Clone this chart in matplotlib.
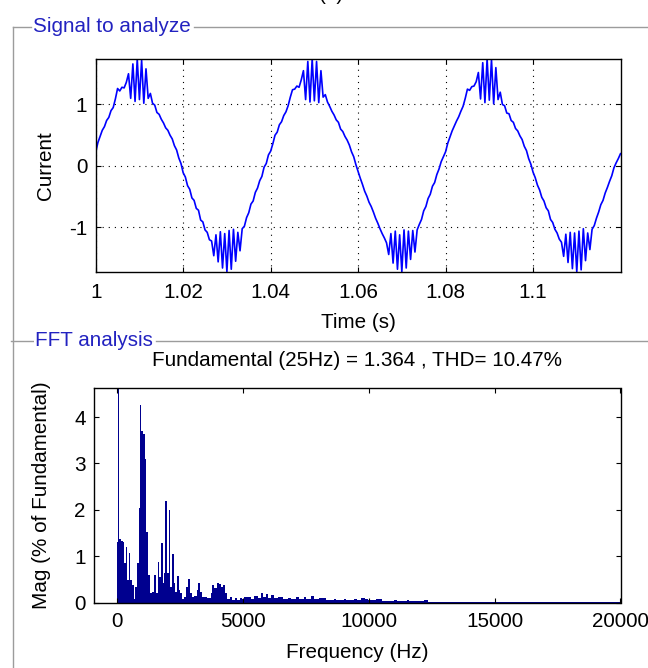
import numpy as np
import matplotlib
matplotlib.use("Agg")
import matplotlib.pyplot as plt
from matplotlib.lines import Line2D

plt.rcParams['font.family'] = ['Liberation Sans', 'DejaVu Sans']
plt.rcParams['font.size'] = 14.9
plt.rcParams['axes.unicode_minus'] = False

# ---------------- data ----------------
t_start = 1.0
t_step = 0.0005
current = [
    0.22, 0.38, 0.48, 0.58, 0.64, 0.74, 0.79, 0.90, 0.95, 1.09,
    1.26, 1.22, 1.28, 1.27, 1.36, 1.50, 1.10, 1.66, 1.05, 1.74,
    1.08, 1.72, 1.02, 1.58, 1.10, 1.18, 1.02, 0.99, 0.87, 0.84,
    0.76, 0.70, 0.62, 0.58, 0.50, 0.44, 0.33, 0.26, 0.13, 0.04,
    -0.11, -0.18, -0.32, -0.38, -0.52, -0.56, -0.69, -0.72, -0.88, -0.91,
    -1.04, -1.08, -1.20, -1.22, -1.46, -1.12, -1.56, -1.07, -1.66, -1.10,
    -1.72, -1.05, -1.68, -1.03, -1.55, -1.08, -1.38, -1.02, -0.98, -0.84,
    -0.76, -0.62, -0.57, -0.43, -0.36, -0.24, -0.17, -0.02, 0.04, 0.18,
    0.24, 0.36, 0.50, 0.55, 0.67, 0.72, 0.82, 0.88, 0.98, 1.12,
    1.24, 1.25, 1.30, 1.28, 1.40, 1.55, 1.08, 1.70, 1.04, 1.74,
    1.06, 1.70, 1.03, 1.55, 1.12, 1.16, 1.04, 0.97, 0.89, 0.83,
    0.75, 0.71, 0.60, 0.56, 0.48, 0.42, 0.34, 0.23, 0.15, 0.02,
    -0.09, -0.20, -0.30, -0.41, -0.49, -0.59, -0.66, -0.75, -0.85, -0.93,
    -1.02, -1.10, -1.17, -1.25, -1.44, -1.10, -1.58, -1.06, -1.68, -1.12,
    -1.72, -1.04, -1.66, -1.06, -1.52, -1.05, -1.40, -1.04, -0.95, -0.87,
    -0.73, -0.66, -0.53, -0.46, -0.33, -0.27, -0.14, -0.05, 0.07, 0.15,
    0.23, 0.37, 0.47, 0.57, 0.65, 0.73, 0.80, 0.89, 0.97, 1.10,
    1.25, 1.23, 1.29, 1.30, 1.37, 1.52, 1.09, 1.68, 1.03, 1.74,
    1.07, 1.73, 1.01, 1.60, 1.08, 1.20, 1.00, 0.98, 0.86, 0.85,
    0.74, 0.71, 0.61, 0.57, 0.49, 0.43, 0.32, 0.25, 0.12, 0.03,
    -0.10, -0.19, -0.31, -0.39, -0.51, -0.57, -0.68, -0.73, -0.87, -0.92,
    -1.03, -1.09, -1.19, -1.24, -1.47, -1.11, -1.57, -1.08, -1.67, -1.09,
    -1.72, -1.06, -1.69, -1.02, -1.54, -1.09, -1.36, -1.03, -0.97, -0.85,
    -0.75, -0.63, -0.56, -0.44, -0.35, -0.25, -0.16, -0.03, 0.05, 0.12,
    0.20,
]
time = t_start + t_step * np.arange(len(current))

fft_edges = [
    -20, 15, 60, 160, 213, 267, 333, 400, 453, 507,
    600, 667, 707, 773, 840, 880, 933, 1000, 1080, 1147,
    1213, 1280, 1373, 1467, 1533, 1600, 1667, 1733, 1800, 1840,
    1907, 1973, 2040, 2107, 2173, 2240, 2307, 2373, 2440, 2507,
    2573, 2640, 2747, 2813, 2880, 2960, 3040, 3147, 3213, 3280,
    3373, 3573, 3707, 3773, 3840, 3947, 4040, 4107, 4200, 4280,
    4373, 4480, 4573, 4667, 4773, 4880, 4947, 5040, 5300, 5450,
    5600, 5700, 5800, 5900, 6000, 6100, 6220, 6400, 6600, 6800,
    6900, 7100, 7200, 7400, 7500, 7700, 7800, 8000, 8300, 8600,
    8700, 9000, 9100, 9400, 9530, 9700, 9850, 9950, 10300, 10500,
    11000, 11100, 11500, 11600, 12200, 12350, 20000,
]
fft_mag = [
    1.31, 100, 1.38, 1.33, 1.31, 0.86, 1.20, 0.49, 1.07, 0.49,
    0.38, 0.09, 0.34, 0.85, 2.03, 4.25, 3.71, 3.64, 3.10, 1.53,
    0.60, 0.20, 0.24, 0.60, 0.20, 0.88, 0.56, 1.28, 0.42, 0.63,
    2.20, 0.63, 2.00, 0.34, 1.06, 0.42, 0.24, 0.57, 0.27, 0.20,
    0.07, 0.13, 0.34, 0.50, 0.20, 0.13, 0.14, 0.27, 0.43, 0.24,
    0.13, 0.11, 0.20, 0.38, 0.31, 0.43, 0.40, 0.34, 0.38, 0.20,
    0.09, 0.13, 0.06, 0.11, 0.06, 0.11, 0.07, 0.12, 0.08, 0.15,
    0.10, 0.20, 0.12, 0.19, 0.11, 0.17, 0.10, 0.13, 0.07, 0.11,
    0.07, 0.12, 0.08, 0.13, 0.09, 0.14, 0.08, 0.10, 0.05, 0.08,
    0.05, 0.08, 0.05, 0.09, 0.06, 0.10, 0.08, 0.06, 0.08, 0.04,
    0.06, 0.03, 0.05, 0.03, 0.06, 0.015,
]

time_ticks = [1.0, 1.02, 1.04, 1.06, 1.08, 1.1]
time_tick_labels = ['1', '1.02', '1.04', '1.06', '1.08', '1.1']
current_ticks = [-1, 0, 1]
freq_ticks = [0, 5000, 10000, 15000, 20000]
mag_ticks = [0, 1, 2, 3, 4]

signal_box_title = 'Signal to analyze'
fft_box_title = 'FFT analysis'
fft_title = 'Fundamental (25Hz) = 1.364 , THD= 10.47%'

# ---------------- figure ----------------
W, H = 648, 668
fig = plt.figure(figsize=(W / 100, H / 100), dpi=100)


def fx(px):
    return px / W


def fy(py):
    return 1 - py / H


box_col = '#9c9c9c'
title_col = '#2222c0'

# --- top axes: signal ---
l1, r1, t1, b1 = 95.7, 620.5, 59.0, 271.7
ax1 = fig.add_axes([fx(l1), fy(b1), (r1 - l1) / W, (b1 - t1) / H])
ax1.plot(time, current, color='#0000ff', lw=1.2)
ax1.set_xlim(1.0, 1.12)
ax1.set_ylim(-1.72, 1.74)
ax1.set_xticks(time_ticks, time_tick_labels)
ax1.set_yticks(current_ticks)
ax1.grid(True, color='k', linestyle=(0, (1, 4.5)), linewidth=0.8)
ax1.tick_params(direction='in', length=3.6, width=0.8, top=True, right=True)
ax1.tick_params(axis='x', pad=8)
ax1.tick_params(axis='y', pad=6)
for s in ax1.spines.values():
    s.set_linewidth(1.0)
ax1.set_xlabel('Time (s)', va='center')
ax1.xaxis.set_label_coords(0.5, (b1 - 322) / (b1 - t1))
ax1.set_ylabel('Current', va='center', ha='center')
ax1.yaxis.set_label_coords((45 - l1) / (r1 - l1), 0.5)

# --- bottom axes: FFT ---
l2, r2, t2, b2 = 94.0, 620.5, 388.3, 602.7
ax2 = fig.add_axes([fx(l2), fy(b2), (r2 - l2) / W, (b2 - t2) / H])
ax2.stairs(fft_mag, fft_edges, fill=True, color='#00008f', baseline=0)
ax2.set_xlim(-930, 20000)
ax2.set_ylim(0, 4.62)
ax2.set_xticks(freq_ticks)
ax2.set_yticks(mag_ticks)
ax2.tick_params(direction='in', length=3.6, width=0.8, top=True, right=True)
ax2.tick_params(axis='x', pad=7)
ax2.tick_params(axis='y', pad=6)
for s in ax2.spines.values():
    s.set_linewidth(1.0)
ax2.set_xlabel('Frequency (Hz)', va='center')
ax2.xaxis.set_label_coords(0.5, (b2 - 652) / (b2 - t2))
ax2.set_ylabel('Mag (% of Fundamental)', va='center', ha='center')
ax2.yaxis.set_label_coords((42 - l2) / (r2 - l2), 0.5)
ax2.text(0.5, 1 + (t2 - 361) / (b2 - t2), fft_title, transform=ax2.transAxes,
         ha='center', va='center')

# --- group boxes ---
def hline(x0, x1, y):
    fig.add_artist(Line2D([fx(x0), fx(x1)], [fy(y), fy(y)], color=box_col,
                          lw=1.0, transform=fig.transFigure))


def vline(x, y0, y1):
    fig.add_artist(Line2D([fx(x), fx(x)], [fy(y0), fy(y1)], color=box_col,
                          lw=1.0, transform=fig.transFigure))


hline(13, 31, 27)
hline(194, 648, 27)
vline(13, 27, 668)
hline(11, 33, 340.5)
hline(156, 648, 340.5)

fig.text(fx(33), fy(27), signal_box_title, color=title_col, ha='left',
         va='center', zorder=5)
fig.text(fx(35), fy(340.5), fft_box_title, color=title_col, ha='left',
         va='center', zorder=5,
         bbox=dict(facecolor='white', edgecolor='none', pad=0.5))

# cut-off panel letter at the very top (only its lower edge shows)
fig.text(fx(331), 1.0, '(a)', ha='center', va='baseline', color='k')

fig.savefig('out.png', dpi=100)
